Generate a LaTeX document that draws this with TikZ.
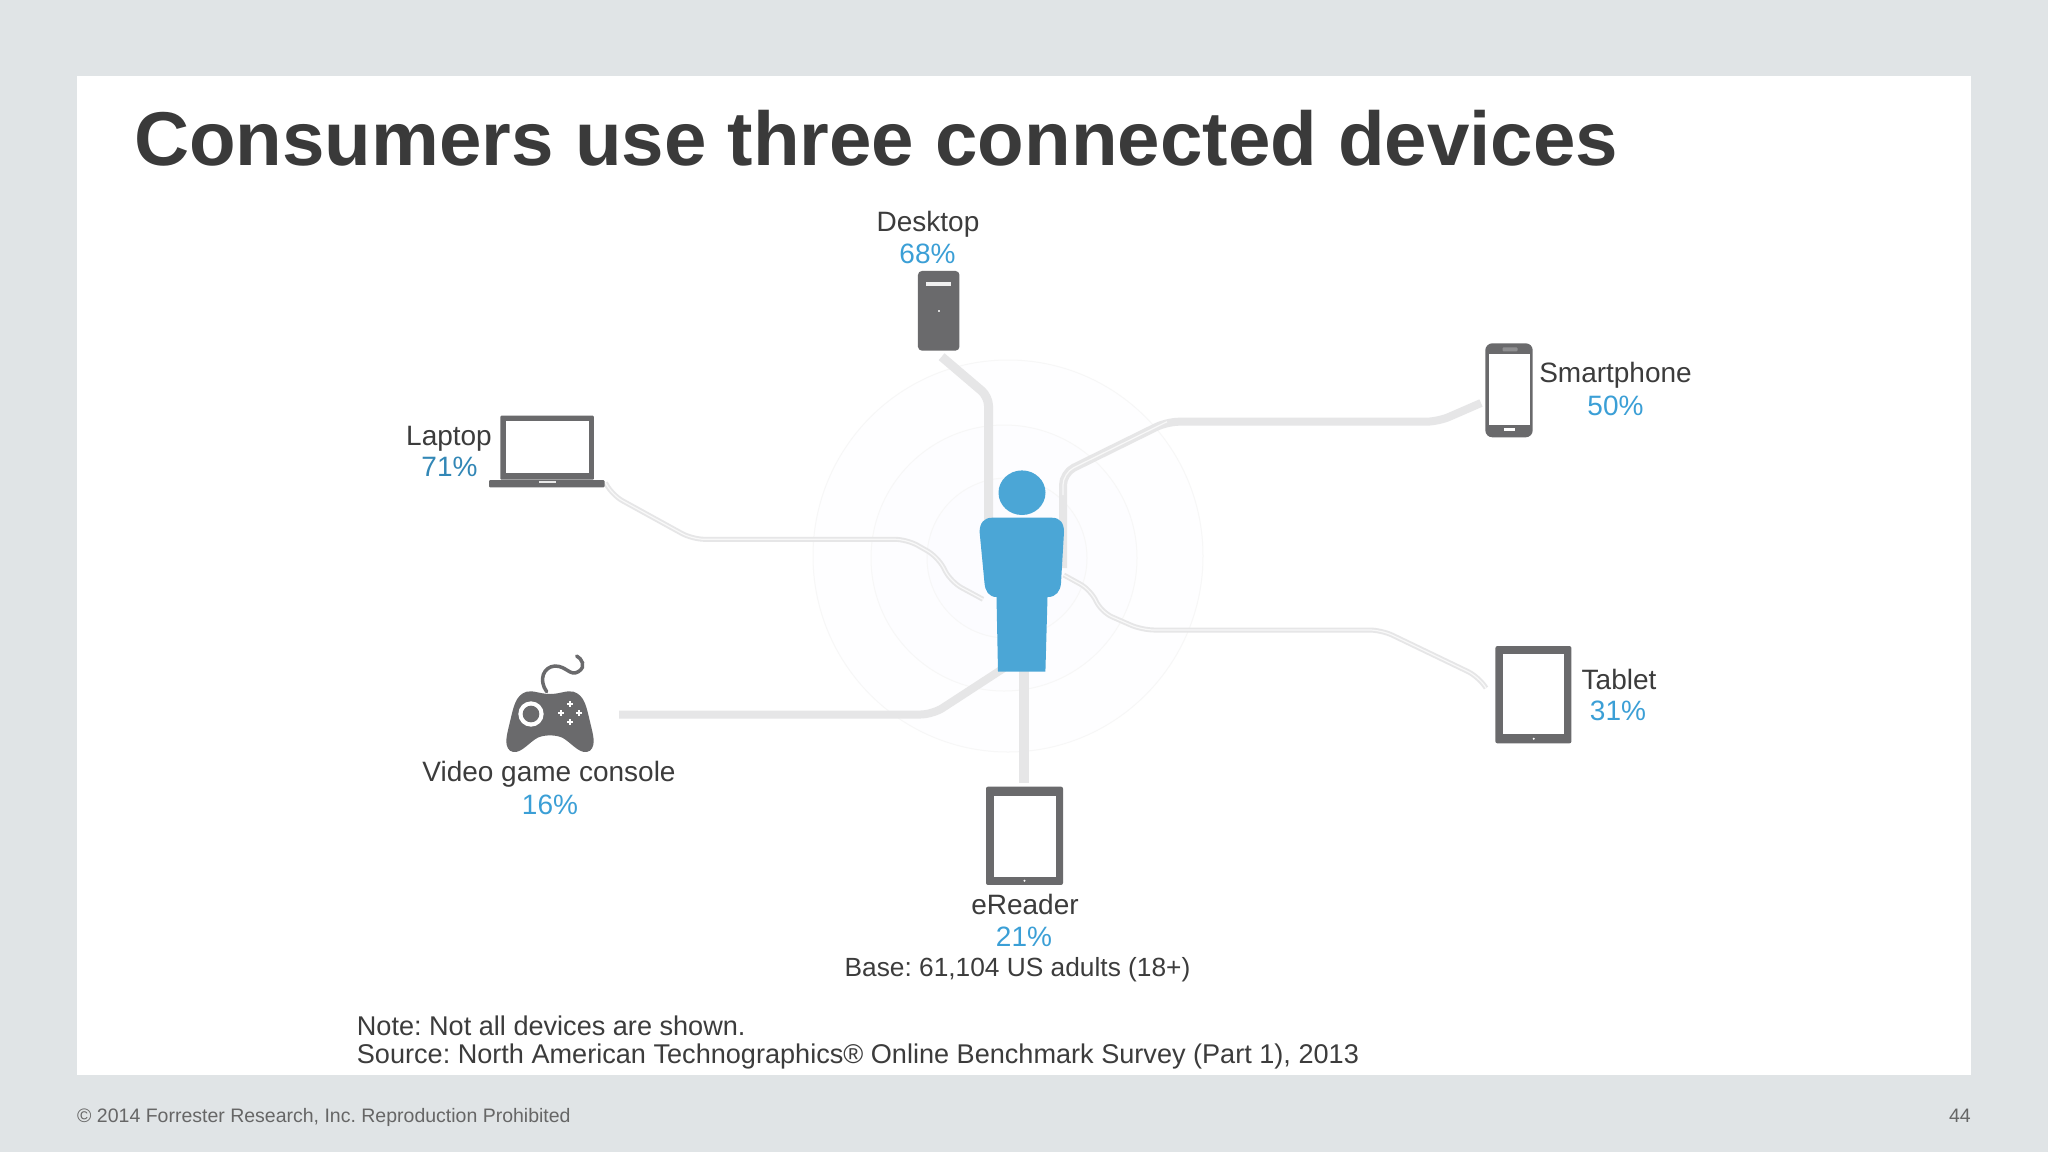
\documentclass[tikz,border=0pt]{standalone}
\usepackage{fontspec}
\setmainfont{Liberation Sans}
\definecolor{bgc}{HTML}{E0E4E6}
\definecolor{titlec}{HTML}{3A3A3A}
\definecolor{txt}{HTML}{3C3C3C}
\definecolor{pct}{HTML}{3B9FD6}
\definecolor{pers}{HTML}{4BA6D6}
\definecolor{dev}{HTML}{6A6A6C}
\definecolor{wire}{HTML}{E6E6E7}
\definecolor{foot}{HTML}{666666}
\newcommand{\fsz}[1]{\fontsize{#1}{#1}\selectfont}
\tikzset{
  lab/.style={font=\fsz{28},text=txt,anchor=base,inner sep=0pt},
  pctlab/.style={font=\fsz{28},text=pct,anchor=base,inner sep=0pt},
  note/.style={font=\fsz{27.1},text=txt,anchor=base west,inner sep=0pt},
  thick wire/.style={draw=wire,line width=9pt,rounded corners=9pt},
  med wire/.style={draw=wire,line width=8pt,rounded corners=12pt},
  thin wire/.style={draw=wire,line width=5pt,rounded corners=12pt},
  wire core/.style={draw=white!70!wire,line width=1.2pt,rounded corners=12pt},
  ring/.style={draw=black!3,line width=1pt,fill=blue!30!white,fill opacity=0.012},
  devfill/.style={fill=dev,draw=none},
  screen/.style={fill=white,draw=none},
}
\begin{document}
\frenchspacing
\begin{tikzpicture}[x=1pt,y=-1pt]
\useasboundingbox (0,0) rectangle (2048,1152);
\fill[bgc] (0,0) rectangle (2048,1152);
\fill[white] (77,76) rectangle (1971,1075);
\node[font=\bfseries\fsz{76.3},text=titlec,anchor=base west,inner sep=0pt] (title) at (134,165) {Consumers use three connected devices};

% rings
\draw[ring] (1008,556) ellipse (195 and 196);
\draw[ring] (1004,558) ellipse (133 and 133);
\draw[ring] (1007,558) ellipse (80 and 80);

% anchors of connectors
\coordinate (dA) at (941.6,356.7);
\coordinate (dB) at (988.5,396.7);
\coordinate (dC) at (988.5,522);
\coordinate (lA) at (605.5,482.7);
\coordinate (lB) at (612,495);
\coordinate (lC) at (692.5,539.3);
\coordinate (lD) at (907,539.3);
\coordinate (lE) at (938,557);
\coordinate (lF) at (951,582);
\coordinate (lG) at (983,599.3);
\coordinate (sA) at (1481,403);
\coordinate (sB) at (1438,421.7);
\coordinate (sC) at (1167,421.7);
\coordinate (sD) at (1063,473);
\coordinate (sE) at (1063,568);
\coordinate (tA) at (1063.8,575);
\coordinate (tB) at (1091,590);
\coordinate (tC) at (1101,612);
\coordinate (tD) at (1142,630);
\coordinate (tE) at (1381.6,630);
\coordinate (tF) at (1478.6,676.7);
\coordinate (tG) at (1486,688);
\coordinate (cA) at (619,714.5);
\coordinate (cB) at (932.6,714.5);
\coordinate (cC) at (1004,668);
\coordinate (eA) at (1024,668);
\coordinate (eB) at (1024,783);

% connectors
\draw[thick wire] (dA) -- (dB) -- (dC);
\draw[thin wire] (lA) -- (lB) -- (lC) -- (lD) -- (lE) -- (lF) -- (lG);
\draw[wire core] (lA) -- (lB) -- (lC) -- (lD) -- (lE) -- (lF) -- (lG);
\draw[med wire] (sA) -- (sB) -- (sC) -- (sD) -- (sE);
\draw[wire core] (sD) ++(0,22) -- (sD) -- (sC);
\draw[thin wire] (tA) -- (tB) -- (tC) -- (tD) -- (tE) -- (tF) -- (tG);
\draw[wire core] (tA) -- (tB) -- (tC) -- (tD) -- (tE) -- (tF) -- (tG);
\draw[med wire] (cA) -- (cB) -- (cC);
\draw[wire,line width=10pt] (eA) -- (eB);

% person
\fill[pers] (1022,492.7) ellipse (23.5 and 22.3);
\fill[pers] (992,517.7) -- (1052,517.7)
  .. controls (1060,517.7) and (1064,523) .. (1064,532)
  -- (1061,583) .. controls (1060.5,591) and (1056,597) .. (1048,597)
  -- (1047.5,597) -- (1045.4,671.7) -- (998,671.7) -- (996.5,597)
  .. controls (989,597) and (985,591) .. (984.5,583)
  -- (979.6,532) .. controls (979.6,523) and (984,517.7) .. (992,517.7) -- cycle;

% desktop
\node[devfill,rounded corners=4pt,minimum width=41.5pt,minimum height=79.7pt,inner sep=0pt] (desktop) at (938.7,310.8) {};
\fill[white!90!dev] (926,281.7) rectangle (951,285.7);
\fill[white!75!dev] (938,309.5) rectangle (940,312);

% laptop
\node[devfill,rounded corners=1pt,minimum width=93.5pt,minimum height=64pt,inner sep=0pt] (laptop) at (547.2,447.7) {};
\fill[white] (506,421) rectangle (589,473.3);
\fill[dev,rounded corners=1pt] (489,480) rectangle (604.5,487.3);
\fill[white!85!dev] (538.5,480.8) rectangle (555.5,482.8);

% smartphone
\node[devfill,rounded corners=7pt,minimum width=47.4pt,minimum height=94pt,inner sep=0pt] (phone) at (1509,390.3) {};
\fill[white] (1488.7,354) rectangle (1530,424.7);
\fill[white!25!dev,rounded corners=1pt] (1502.5,347.3) rectangle (1517.5,351.3);
\fill[white] (1504,428.3) rectangle (1515,430.7);

% tablet
\node[devfill,rounded corners=2pt,minimum width=76pt,minimum height=97.3pt,inner sep=0pt] (tablet) at (1533.4,694.7) {};
\fill[white] (1502.6,654.3) rectangle (1564,734.3);
\fill[white] (1533.7,738.7) circle (1.1);

% ereader
\node[devfill,rounded corners=2pt,minimum width=77pt,minimum height=98.3pt,inner sep=0pt] (ereader) at (1024.5,835.8) {};
\fill[white] (994,796) rectangle (1055.6,876.7);
\fill[white] (1024.5,880.7) circle (1.1);

% console
\begin{scope}[shift={(400,630)},scale=1/3]
\coordinate (consoleTop) at (440,185);
\draw[dev,line width=3.5pt,line cap=round] (consoleTop) .. controls (415,150) and (430,110) .. (465,108) .. controls (500,108) and (510,140) .. (535,125) .. controls (560,110) and (545,85) .. (530,78);
\fill[dev] (450,192) .. controls (480,192) and (500,180) .. (520,185)
  .. controls (555,195) and (560,235) .. (570,275)
  .. controls (578,310) and (590,345) .. (570,362)
  .. controls (545,378) and (520,345) .. (495,328)
  .. controls (475,312) and (425,312) .. (405,328)
  .. controls (380,345) and (355,378) .. (330,362)
  .. controls (310,345) and (322,310) .. (330,275)
  .. controls (340,235) and (345,195) .. (380,185)
  .. controls (400,180) and (420,192) .. (450,192) -- cycle;
\fill[white] (393,252) circle (38*1pt);
\fill[dev] (393,252) circle (25*1pt);
\foreach \px/\py in {510/222,483/248,537/248,510/275}{
  \fill[white] (\px-9,\py-2.5) rectangle (\px+9,\py+2.5);
  \fill[white] (\px-2.5,\py-9) rectangle (\px+2.5,\py+9);
}
\end{scope}

% labels
\node[lab] (tDesktop) at (928,231.7) {Desktop};
\node[pctlab] (pDesktop) at (927.5,263) {68\%};
\node[lab] (tLaptop) at (449,445) {Laptop};
\node[pctlab,text=pct!85!black] (pLaptop) at (449.5,476.7) {71\%};
\node[lab] (tPhone) at (1615.5,382.7) {Smartphone};
\node[pctlab] (pPhone) at (1615.5,415) {50\%};
\node[lab] (tTablet) at (1619,689) {Tablet};
\node[pctlab] (pTablet) at (1618,720.5) {31\%};
\node[lab] (tConsole) at (549,781.7) {Video game console};
\node[pctlab] (pConsole) at (550,814) {16\%};
\node[lab] (tReader) at (1025,914) {eReader};
\node[pctlab] (pReader) at (1024,946.5) {21\%};
\node[lab,font=\fsz{26.3}] (base) at (1017.5,976) {Base: 61,104 US adults (18+)};
\node[note] (noteA) at (356.7,1035) {Note: Not all devices are shown.};
\node[note] (noteB) at (356.7,1063.3) {Source: North American Technographics® Online Benchmark Survey (Part 1), 2013};
\node[font=\fsz{19.5},text=foot,anchor=base west,inner sep=0pt] (copy) at (77,1122) {© 2014 Forrester Research, Inc. Reproduction Prohibited};
\node[font=\fsz{19.5},text=foot,anchor=base east,inner sep=0pt] (page) at (1971,1122) {44};
\end{tikzpicture}
\end{document}
